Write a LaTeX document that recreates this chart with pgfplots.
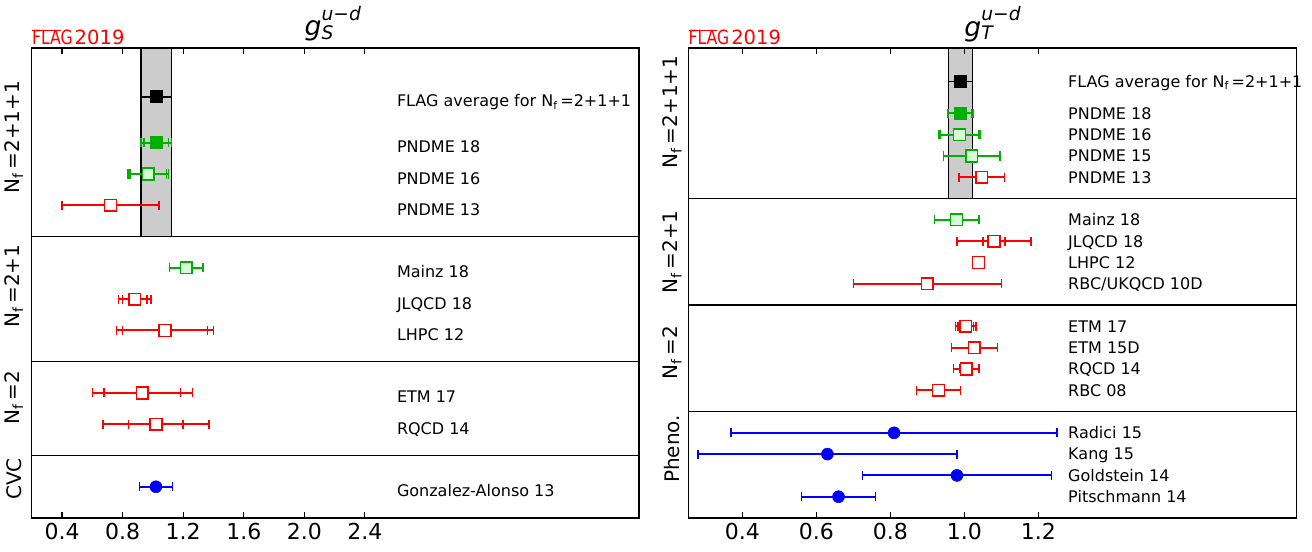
\documentclass[border=0pt]{standalone}
\usepackage{graphicx}
\usepackage{pgfplots}
\pgfplotsset{compat=1.18}
\usepackage{fontspec}
\setmainfont{DejaVu Sans}
\definecolor{fgreen}{RGB}{0,175,0}
\definecolor{flgreen}{RGB}{215,250,215}
\definecolor{bandgray}{RGB}{204,204,204}
\newcommand{\fs}[1]{\fontsize{#1}{#1}\selectfont}
\newcommand{\Nf}{N\textsubscript{f}}
\pgfplotsset{
  panel/.style={
    scale only axis, height=352.5pt, ymin=0,
    axis on top,
    axis line style={line width=0.9pt},
    tick align=inside, major tick length=4.5pt,
    tick style={black, line width=0.8pt},
    xtick pos=both,
    yticklabels={},
    ytick style={draw=none},
    ymajorgrids, y grid style={black, line width=0.9pt},
    /pgf/number format/assume math mode=true,
    /pgf/number format/fixed, /pgf/number format/fixed zerofill, /pgf/number format/precision=1,
    xticklabel style={font=\fs{16.5}},
    clip=false,
  },
  ebar/.style={error bars/.cd, x dir=both, x explicit,
    error bar style={line width=1.4pt}, error mark=|,
    error mark options={line width=1.1pt, mark size=3.4pt}},
  nocap/.style={error bars/.cd, x dir=both, x explicit,
    error bar style={line width=1.4pt}, error mark=none},
  outer/.style={only marks, mark=none, ebar},
  sqred/.style={red, only marks, mark=square*, mark size=4.4pt, mark options={fill=white, line width=1.1pt}, ebar},
  sqlg/.style={fgreen, only marks, mark=square*, mark size=4.4pt, mark options={fill=flgreen, line width=1.1pt}, ebar},
  sqg/.style={fgreen, only marks, mark=square*, mark size=4.4pt, mark options={fill=fgreen, line width=1.1pt}, ebar},
  sqk/.style={black, only marks, mark=square*, mark size=4.4pt, mark options={fill=black, line width=1.1pt}, nocap},
  cb/.style={blue, only marks, mark=*, mark size=4.5pt, mark options={fill=blue}, ebar},
}
\tikzset{
  lab/.style={anchor=base west, inner sep=0pt, font=\fs{12}},
  ylab/.style={rotate=90, inner sep=0pt, font=\fs{15}},
}
\begin{document}
\begin{tikzpicture}
\useasboundingbox (0,0) rectangle (984pt,413.25pt);
% ---------------- left panel: g_S ----------------
\begin{axis}[panel, at={(23.8pt,24.75pt)}, anchor=south west,
  width=455.5pt, xmin=0.2, xmax=4.21, ymax=15.03,
  xtick={0.4,0.8,1.2,1.6,2.0,2.4}, ytick={2,5,9}]
\addplot[draw=black, line width=0.9pt, fill=bandgray] coordinates {(0.922,9) (0.922,15.03) (1.122,15.03) (1.122,9) (0.922,9)};
% outer error bars
\addplot[fgreen, outer] coordinates {(1.022,12) +- (0.100,0) (0.97,11) +- (0.134,0)};
\addplot[red, outer] coordinates {(0.88,7) +- (0.106,0) (1.08,6) +- (0.32,0) (0.93,4) +- (0.33,0) (1.02,3) +- (0.35,0)};
% points with inner errors
\addplot[sqk] coordinates {(1.022,13.47) +- (0.100,0)};
\addplot[sqg] coordinates {(1.022,12) +- (0.080,0)};
\addplot[sqlg] coordinates {(0.97,11) +- (0.12,0) (1.22,8) +- (0.11,0)};
\addplot[sqred] coordinates {(0.72,10) +- (0.32,0) (0.88,7) +- (0.08,0) (1.08,6) +- (0.28,0) (0.93,4) +- (0.252,0) (1.02,3) +- (0.18,0)};
\addplot[cb] coordinates {(1.02,1) +- (0.11,0)};
% labels
\node[lab] at (axis cs:2.61,13.47) [yshift=-7.5pt] {FLAG average for \Nf\,=2+1+1};
\node[lab] at (axis cs:2.61,12) [yshift=-7.5pt] {PNDME 18};
\node[lab] at (axis cs:2.61,11) [yshift=-7.5pt] {PNDME 16};
\node[lab] at (axis cs:2.61,10) [yshift=-7.5pt] {PNDME 13};
\node[lab] at (axis cs:2.61,8) [yshift=-7.5pt] {Mainz 18};
\node[lab] at (axis cs:2.61,7) [yshift=-7.5pt] {JLQCD 18};
\node[lab] at (axis cs:2.61,6) [yshift=-7.5pt] {LHPC 12};
\node[lab] at (axis cs:2.61,4) [yshift=-7.5pt] {ETM 17};
\node[lab] at (axis cs:2.61,3) [yshift=-7.5pt] {RQCD 14};
\node[lab] at (axis cs:2.61,1) [yshift=-7.5pt] {Gonzalez-Alonso 13};
\node[ylab] at ([xshift=-13.5pt]axis cs:0.2,12.18) {\Nf\,=2+1+1};
\node[ylab] at ([xshift=-13.5pt]axis cs:0.2,7.42) {\Nf\,=2+1};
\node[ylab] at ([xshift=-13.5pt]axis cs:0.2,3.84) {\Nf\,=2};
\node[ylab] at ([xshift=-13.5pt]axis cs:0.2,1.25) {CVC};
\node[anchor=base, inner sep=0pt] at (rel axis cs:0.5,1) [yshift=9pt, xshift=-2pt]
  {\fs{20}\itshape g\rlap{\raisebox{-2.9pt}{\fs{14}S}}\raisebox{12pt}{\fs{14}u−d}};
\node[anchor=base west, inner sep=0pt, text=red] at (rel axis cs:0,1) [yshift=2.8pt]
  {\fs{14.7}\makebox[0pt][l]{\rule[9.6pt]{21.5pt}{1.1pt}}\scalebox{0.8}[1]{FLAG}\hspace{1.5pt}2019};
\end{axis}
% ---------------- right panel: g_T ----------------
\begin{axis}[panel, at={(516.2pt,24.75pt)}, anchor=south west,
  width=456.3pt, xmin=0.254, xmax=1.898, ymax=22.07,
  xtick={0.4,0.6,0.8,1.0,1.2}, ytick={5,10,15}]
\addplot[draw=black, line width=0.9pt, fill=bandgray] coordinates {(0.957,15) (0.957,22.07) (1.021,22.07) (1.021,15) (0.957,15)};
% outer error bars
\addplot[fgreen, outer] coordinates {(0.989,19) +- (0.034,0) (0.987,18) +- (0.055,0)};
\addplot[red, outer] coordinates {(1.08,13) +- (0.10,0) (1.038,12) +- (0.016,0) (1.004,9) +- (0.028,0) (1.005,7) +- (0.034,0)};
% points with inner errors
\addplot[sqk] coordinates {(0.989,20.5) +- (0.032,0)};
\addplot[sqg] coordinates {(0.989,19) +- (0.032,0)};
\addplot[sqlg] coordinates {(0.987,18) +- (0.051,0) (1.020,17) +- (0.076,0) (0.979,14) +- (0.060,0)};
\addplot[sqred] coordinates {(1.047,16) +- (0.061,0) (1.08,13) +- (0.03,0) (1.038,12) +- (0.011,0) (0.90,11) +- (0.20,0)
  (1.004,9) +- (0.021,0) (1.027,8) +- (0.062,0) (1.005,7) +- (0.017,0) (0.93,6) +- (0.06,0)};
\addplot[cb] coordinates {(0.81,4) +- (0.44,0) (0.63,3) +- (0.35,0) (0.98,2) +- (0.255,0) (0.66,1) +- (0.10,0)};
% labels
\node[lab] at (axis cs:1.28,20.5) [yshift=-4.4pt] {FLAG average for \Nf\,=2+1+1};
\node[lab] at (axis cs:1.28,19) [yshift=-4.4pt] {PNDME 18};
\node[lab] at (axis cs:1.28,18) [yshift=-4.4pt] {PNDME 16};
\node[lab] at (axis cs:1.28,17) [yshift=-4.4pt] {PNDME 15};
\node[lab] at (axis cs:1.28,16) [yshift=-4.4pt] {PNDME 13};
\node[lab] at (axis cs:1.28,14) [yshift=-4.4pt] {Mainz 18};
\node[lab] at (axis cs:1.28,13) [yshift=-4.4pt] {JLQCD 18};
\node[lab] at (axis cs:1.28,12) [yshift=-4.4pt] {LHPC 12};
\node[lab] at (axis cs:1.28,11) [yshift=-4.4pt] {RBC/UKQCD 10D};
\node[lab] at (axis cs:1.28,9) [yshift=-4.4pt] {ETM 17};
\node[lab] at (axis cs:1.28,8) [yshift=-4.4pt] {ETM 15D};
\node[lab] at (axis cs:1.28,7) [yshift=-4.4pt] {RQCD 14};
\node[lab] at (axis cs:1.28,6) [yshift=-4.4pt] {RBC 08};
\node[lab] at (axis cs:1.28,4) [yshift=-4.4pt] {Radici 15};
\node[lab] at (axis cs:1.28,3) [yshift=-4.4pt] {Kang 15};
\node[lab] at (axis cs:1.28,2) [yshift=-4.4pt] {Goldstein 14};
\node[lab] at (axis cs:1.28,1) [yshift=-4.4pt] {Pitschmann 14};
\node[ylab] at ([xshift=-12pt]axis cs:0.254,19.07) {\Nf\,=2+1+1};
\node[ylab] at ([xshift=-12pt]axis cs:0.254,12.5) {\Nf\,=2+1};
\node[ylab] at ([xshift=-12pt]axis cs:0.254,7.77) {\Nf\,=2};
\node[ylab] at ([xshift=-12pt]axis cs:0.254,3.25) {Pheno.};
\node[anchor=base, inner sep=0pt] at (rel axis cs:0.5,1) [yshift=9pt]
  {\fs{20}\itshape g\rlap{\raisebox{-2.9pt}{\fs{14}T}}\raisebox{12pt}{\fs{14}u−d}};
\node[anchor=base west, inner sep=0pt, text=red] at (rel axis cs:0,1) [yshift=2.8pt]
  {\fs{14.7}\makebox[0pt][l]{\rule[9.6pt]{21.5pt}{1.1pt}}\scalebox{0.8}[1]{FLAG}\hspace{1.5pt}2019};
\end{axis}
\end{tikzpicture}
\end{document}
